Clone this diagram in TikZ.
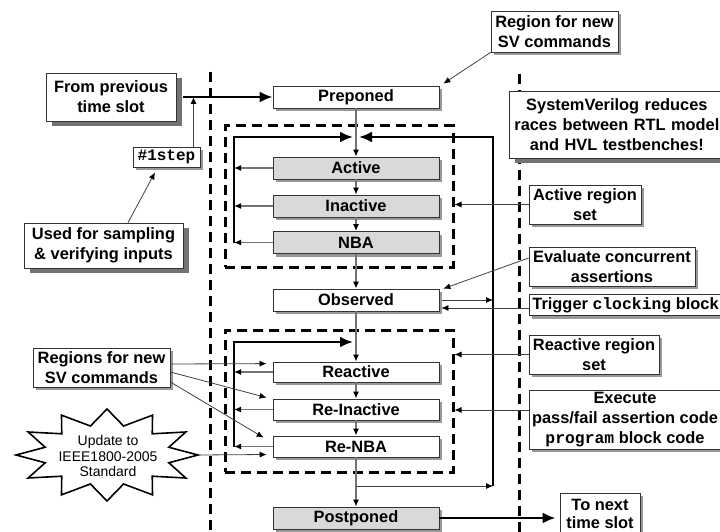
\documentclass[tikz,border=0pt]{standalone}
\usepackage{fontspec}
\setmainfont{Liberation Sans}
\setmonofont{Liberation Mono}
\usetikzlibrary{arrows.meta,shadows}
\begin{document}
\begin{tikzpicture}[x=1pt,y=-1pt,
  lbl/.style={font=\fontsize{16.4}{20}\selectfont\bfseries},
  basebox/.style={draw=black!80, line width=0.8pt, fill=white, align=center, inner sep=2pt, lbl},
  box/.style={basebox, drop shadow={shadow xshift=3pt, shadow yshift=-3pt, fill=black!40, opacity=1}},
  bigbox/.style={basebox, drop shadow={shadow xshift=6pt, shadow yshift=-5pt, fill=black!55, opacity=1}},
  region/.style={box, minimum width=166pt, minimum height=22pt},
  gregion/.style={region, fill=black!15},
  dsh/.style={line width=3pt, dash pattern=on 10pt off 6pt},
  dbox/.style={draw, line width=3pt, dash pattern=on 10pt off 6pt, inner sep=0pt},
  flow/.style={draw=black!55, line width=1.3pt, -{Latex[length=7pt,width=6pt,color=black]}},
  thin/.style={draw=black!75, line width=0.8pt, -{Latex[length=7pt,width=6pt,color=black]}},
  thk/.style={line width=2.5pt, -{Latex[length=13pt,width=11pt]}}
]
\useasboundingbox (0,0) rectangle (720,532);
\clip (0,0) rectangle (720,532);

% dashed separators
\draw[dsh] (210,72) -- (210,532);
\draw[dsh] (519,74) -- (519,532);

% dashed groups
\node[dbox, minimum width=228pt, minimum height=141pt] (agrp) at (339,196.5) {};
\node[dbox, minimum width=228pt, minimum height=142pt] (rgrp) at (339,401) {};

% left callouts
\node[bigbox, minimum width=130pt, minimum height=48pt] (fromprev) at (111,97) {From previous\\time slot};
\node[box, minimum width=67pt, minimum height=20pt, font=\fontsize{16}{20}\selectfont\ttfamily\bfseries] (step) at (166.5,157) {\#1step};
\node[bigbox, minimum width=159pt, minimum height=45pt] (used) at (103.5,245.5) {Used for sampling\\\& verifying inputs};
\node[box, minimum width=137pt, minimum height=39pt] (rleft) at (101.5,367.5) {Regions for new\\SV commands};

% starburst
\begin{scope}[shift={(107,455)}]
\draw[line width=1.6pt, fill=white] (-91,0)
  \foreach \i [evaluate=\i as \rx using {mod(\i,2)==0 ? 91 : 64},
               evaluate=\i as \ry using {mod(\i,2)==0 ? 46 : 30}] in {1,...,23}
  { -- ({\rx*cos(180+\i*15)},{\ry*sin(180+\i*15)}) } -- cycle;
\end{scope}
\node[align=center, font=\fontsize{14}{15.7}\selectfont] (upd) at (108,456) {Update to\\IEEE1800-2005\\Standard};
\coordinate (updR) at (198,455);

% regions
\node[region] (prep) at (356,97) {Preponed};
\node[gregion] (act) at (356,168) {Active};
\node[gregion] (inact) at (356,206) {Inactive};
\node[gregion] (nba) at (356,242.5) {NBA};
\node[region] (obs) at (356,300) {Observed};
\node[region, minimum height=20pt] (react) at (356,372) {Reactive};
\node[region, minimum height=21pt] (reinact) at (356,409.5) {Re-Inactive};
\node[region, minimum height=21pt] (renba) at (356,446.5) {Re-NBA};
\node[gregion] (post) at (356,518) {Postponed};

% right callouts
\node[box, minimum width=127pt, minimum height=41pt] (rtop) at (554.5,31.5) {Region for new\\SV commands};
\node[bigbox, anchor=west, minimum width=215pt, minimum height=67pt, text width=207pt] (sv) at (509,124.5) {SystemVerilog reduces\\races between RTL model\\and HVL testbenches!};
\node[box, minimum width=112pt, minimum height=39pt] (aset) at (585,204.5) {Active region\\set};
\node[box, minimum width=166pt, minimum height=39pt] (evalc) at (612,266.5) {Evaluate concurrent\\assertions};
\node[box, anchor=west, minimum height=20pt, inner sep=3pt] (trig) at (529,305) {Trigger {\ttfamily clocking} block};
\node[box, minimum width=130pt, minimum height=39pt] (rset) at (594,354.5) {Reactive region\\set};
\node[box, minimum width=192pt, minimum height=59pt] (exec) at (625,419.5) {Execute\\pass/fail assertion code\\{\ttfamily program} block code};
\node[box, minimum width=80pt, minimum height=42pt, font=\fontsize{16.4}{18}\selectfont\bfseries] (tonext) at (600,514) {To next\\time slot};

% loop coordinates
\coordinate (la) at (234,137);
\coordinate (lr) at (234,342);
\coordinate (ra) at (493,137);
\coordinate (rb) at (493,486);

% main flow
\draw[flow] (prep.south) -- (act.north);
\draw[flow] (act.south) -- (inact.north);
\draw[flow] (inact.south) -- (nba.north);
\draw[flow] (nba.south) -- (obs.north);
\draw[flow] (obs.south) -- (react.north);
\draw[flow] (react.south) -- (reinact.north);
\draw[flow] (reinact.south) -- (renba.north);
\draw[flow] (renba.south) -- (post.north);

% active loop
\draw[flow] (act.west) -- (act.west -| la);
\draw[flow] (inact.west) -- (inact.west -| la);
\draw[flow] (nba.west) -- (nba.west -| la);
\draw[thk] (nba.west -| la) -- (la) -- ([xshift=-3pt]act.north |- la);

% reactive loop
\draw[flow] (react.west) -- (react.west -| lr);
\draw[flow] (reinact.west) -- (reinact.west -| lr);
\draw[flow] (renba.west) -- (renba.west -| lr);
\draw[thk] (renba.west -| lr) -- (lr) -- ([xshift=-3pt]react.north |- lr);

% return loop
\draw[thin] (renba.south |- rb) -- (rb);
\draw[thk] (rb) -- (ra) -- ([xshift=3pt]act.north |- ra);

% time slot in/out
\draw[thk] ([xshift=7pt]fromprev.east) -- (prep.west);
\draw[thin] ([xshift=27pt]step.north) -- ([xshift=27pt]step.north |- prep.west);
\draw[thin] ([xshift=24.5pt]used.north) -- ([xshift=-11.5pt,yshift=-5pt]step.south);
\draw[thk] (post.east) -- ([xshift=-4pt]post.east -| tonext.west);

% right callout arrows
\draw[thin] (rtop.south west) -- ([xshift=4pt,yshift=2pt]prep.north east);
\draw[thin] (aset.west) -- (aset.west -| agrp.east);
\draw[thin] ([yshift=8.5pt]evalc.west) -- ([xshift=4pt]obs.north east);
\draw[thin] ([xshift=3pt]obs.east) -- (obs.east -| ra);
\draw[thin] ([yshift=-3pt]trig.west) -- ([xshift=2pt,yshift=-3pt]trig.west -| obs.east);
\draw[thin] (rset.west) -- (rset.west -| rgrp.east);
\draw[thin] ([yshift=9.5pt]exec.west) -- ([yshift=9.5pt]exec.west -| rgrp.east);

% left callout arrows
\draw[thin] ([yshift=3.5pt]rleft.east) -- ([xshift=-6pt,yshift=-2pt]react.north west);
\draw[thin] ([yshift=-4.5pt]rleft.east) -- ([xshift=-6pt,yshift=1pt]reinact.north west);
\draw[thin] ([yshift=-14.5pt]rleft.east) -- ([xshift=-9pt,yshift=-2pt]renba.north west);
\draw[thin] (updR) -- ([xshift=-6pt,yshift=-8pt]renba.west);
\end{tikzpicture}
\end{document}
